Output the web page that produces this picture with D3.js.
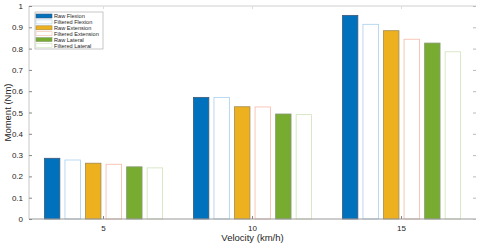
<!DOCTYPE html>
<html>
<head>
<meta charset="utf-8">
<script src="https://cdn.jsdelivr.net/npm/d3@7"></script>
<style>
  body { margin: 0; background: #fff; }
  text { font-family: "Liberation Sans", Arial, sans-serif; fill: #262626; }
</style>
</head>
<body>
<svg id="chart" width="480" height="246"></svg>
<script>
var velocities = ["5", "10", "15"];
var seriesNames = ["Raw Flexion", "Filtered Flexion", "Raw Extension", "Filtered Extension", "Raw Lateral", "Filtered Lateral"];
var rawFlexion = [0.285, 0.571, 0.956];
var filteredFlexion = [0.277, 0.571, 0.914];
var rawExtension = [0.262, 0.527, 0.884];
var filteredExtension = [0.257, 0.526, 0.844];
var rawLateral = [0.245, 0.493, 0.826];
var filteredLateral = [0.240, 0.490, 0.785];
var yTicks = [0, 0.1, 0.2, 0.3, 0.4, 0.5, 0.6, 0.7, 0.8, 0.9, 1];

var seriesValues = [rawFlexion, filteredFlexion, rawExtension, filteredExtension, rawLateral, filteredLateral];
var fills = ["#0072BD", "#ffffff", "#EDB120", "#ffffff", "#77AC30", "#ffffff"];
var strokes = ["#3d5a78", "#a9d0ee", "#a08a50", "#f5b9a6", "#8a9a78", "#cfe3b8"];

// note: "top" is reserved on window, so plot edges get a prefix
var plotLeft = 29, plotRight = 476, plotTop = 6, plotBottom = 219;
var svg = d3.select("#chart");

var x = d3.scaleBand().domain(velocities).range([plotLeft, plotRight]).paddingInner(0).paddingOuter(0);
var inner = d3.scaleBand().domain(d3.range(6)).range([0, x.bandwidth() * 0.8]).paddingInner(0.2);
var groupOffset = x.bandwidth() * 0.1;
var y = d3.scaleLinear().domain([0, 1]).range([plotBottom, plotTop]);

// bars
var groups = svg.append("g").selectAll("g")
    .data(velocities)
    .enter().append("g")
    .attr("transform", function(d) { return "translate(" + (x(d) + groupOffset) + ",0)"; });

groups.selectAll("rect")
    .data(function(d, gi) { return seriesValues.map(function(s, si) { return {si: si, v: s[gi]}; }); })
    .enter().append("rect")
    .attr("x", function(d) { return inner(d.si) + 0.5; })
    .attr("width", inner.bandwidth() - 1)
    .attr("y", function(d) { return y(d.v); })
    .attr("height", function(d) { return plotBottom - y(d.v); })
    .attr("fill", function(d) { return fills[d.si]; })
    .attr("stroke", function(d) { return strokes[d.si]; })
    .attr("stroke-width", 0.8);

// axes box
svg.append("line").attr("x1", plotLeft).attr("x2", plotRight).attr("y1", plotBottom).attr("y2", plotBottom).attr("stroke", "#9a9a9a");
svg.append("line").attr("x1", plotLeft).attr("x2", plotRight).attr("y1", plotTop).attr("y2", plotTop).attr("stroke", "#d0d0d0");
svg.append("line").attr("x1", plotLeft).attr("x2", plotLeft).attr("y1", plotTop).attr("y2", plotBottom).attr("stroke", "#c8c8c8");

var yAxis = d3.axisLeft(y).tickValues(yTicks).tickSize(-3).tickPadding(6)
    .tickFormat(function(d) { return d === 0 || d === 1 ? d3.format("d")(d) : d3.format(".1f")(d); });
var gy = svg.append("g").attr("transform", "translate(" + plotLeft + ",0)").call(yAxis);
gy.select(".domain").remove();
gy.selectAll("line").attr("stroke", "#888");
gy.selectAll("text").style("font-family", "Liberation Sans, Arial, sans-serif").style("font-size", "8px").attr("fill", "#262626");

var gyr = svg.append("g").attr("transform", "translate(" + plotRight + ",0)")
    .call(d3.axisRight(y).tickValues(yTicks).tickSize(-3).tickFormat(""));
gyr.select(".domain").remove();
gyr.selectAll("line").attr("stroke", "#bbb");

var xAxis = d3.axisBottom(x).tickSize(-3).tickPadding(6);
var gx = svg.append("g").attr("transform", "translate(0," + plotBottom + ")").call(xAxis);
gx.select(".domain").remove();
gx.selectAll("line").attr("stroke", "#888");
gx.selectAll("text").style("font-family", "Liberation Sans, Arial, sans-serif").style("font-size", "8px").attr("fill", "#262626");

var gxt = svg.append("g").attr("transform", "translate(0," + plotTop + ")")
    .call(d3.axisTop(x).tickSize(-3).tickFormat(""));
gxt.select(".domain").remove();
gxt.selectAll("line").attr("stroke", "#ddd");

// axis labels
svg.append("text")
    .attr("x", (plotLeft + plotRight) / 2).attr("y", 241)
    .attr("text-anchor", "middle")
    .style("font-size", "9.5px")
    .text("Velocity (km/h)");

svg.append("text")
    .attr("transform", "translate(11," + ((plotTop + plotBottom) / 2) + ") rotate(-90)")
    .attr("text-anchor", "middle")
    .style("font-size", "9.5px")
    .text("Moment (Nm)");

// legend
var legend = svg.append("g").attr("transform", "translate(35,12)");
legend.append("rect").attr("width", 68).attr("height", 37)
    .attr("fill", "#fff").attr("stroke", "#b0b0b0").attr("stroke-width", 0.7);
var items = legend.selectAll("g.item")
    .data(seriesNames)
    .enter().append("g")
    .attr("class", "item")
    .attr("transform", function(d, i) { return "translate(1," + (2 + i * 5.9) + ")"; });
items.append("rect")
    .attr("width", 16).attr("height", 4)
    .attr("fill", function(d, i) { return fills[i]; })
    .attr("stroke", function(d, i) { return strokes[i]; })
    .attr("stroke-width", 0.6);
items.append("text")
    .attr("x", 18).attr("y", 4.2)
    .style("font-size", "5.6px")
    .attr("fill", "#333")
    .text(function(d) { return d; });
</script>
</body>
</html>
